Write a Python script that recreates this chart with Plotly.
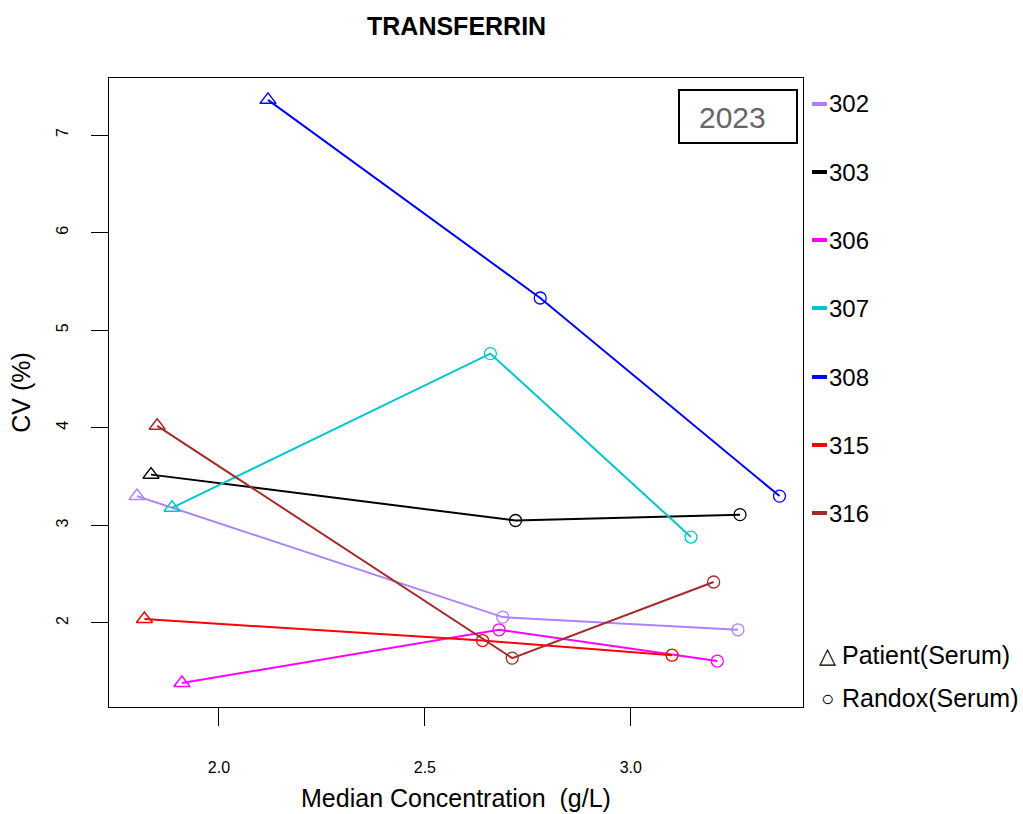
import plotly.graph_objects as go

# ---------------- data ----------------
labs = ["302", "303", "306", "307", "308", "315", "316"]
colors = ["#AB82FF", "#000000", "#FF00FF", "#00C5CD", "#0000FF", "#FF0000", "#A52A2A"]

# Patient(Serum) points (triangles)
pat_x = [1.801, 1.835, 1.910, 1.886, 2.119, 1.819, 1.850]
pat_y = [3.30, 3.52, 1.385, 3.18, 7.36, 2.04, 4.02]

# Randox(Serum) points (circles), two per lab
rdx1_x = [2.689, 2.720, 2.680, 2.659, 2.780, 2.640, 2.712]
rdx1_y = [2.06, 3.05, 1.93, 4.76, 5.33, 1.82, 1.64]
rdx2_x = [3.260, 3.265, 3.210, 3.146, 3.361, 3.100, 3.201]
rdx2_y = [1.93, 3.11, 1.61, 2.88, 3.30, 1.67, 2.42]

x_ticks = [2.0, 2.5, 3.0]
x_tick_text = ["2.0", "2.5", "3.0"]
y_ticks = [2, 3, 4, 5, 6, 7]

title = "TRANSFERRIN"
year = "2023"

# ---------------- layout geometry ----------------
W, H = 1023, 814
L, R, T, B = 109, 803, 78, 707  # page pixels of plot area
pw, ph = R - L, B - T

def px_x(px):
    return (px - L) / pw

def px_y(py):
    return (B - py) / ph

FONT = "Arial, Liberation Sans, sans-serif"

fig = go.Figure()

for i, lab in enumerate(labs):
    pts = sorted([(pat_x[i], pat_y[i]), (rdx1_x[i], rdx1_y[i]), (rdx2_x[i], rdx2_y[i])])
    fig.add_trace(go.Scatter(
        x=[p[0] for p in pts], y=[p[1] for p in pts], mode="lines",
        line=dict(color=colors[i], width=2), showlegend=False, hoverinfo="skip"))
    fig.add_trace(go.Scatter(
        x=[pat_x[i]], y=[pat_y[i]], mode="markers",
        marker=dict(symbol="triangle-up-open", size=14, color=colors[i], line=dict(width=1.5, color=colors[i])),
        showlegend=False, name=lab))
    fig.add_trace(go.Scatter(
        x=[rdx1_x[i], rdx2_x[i]], y=[rdx1_y[i], rdx2_y[i]], mode="markers",
        marker=dict(symbol="circle-open", size=12, color=colors[i], line=dict(width=1.3, color=colors[i])),
        showlegend=False, name=lab))

shapes = []
annotations = []

# legend of labs
leg_y_px = [104, 172, 240, 308, 377, 445, 513]
for i, lab in enumerate(labs):
    yy = px_y(leg_y_px[i])
    shapes.append(dict(type="line", xref="paper", yref="paper",
                       x0=px_x(812), x1=px_x(827), y0=yy, y1=yy,
                       line=dict(color=colors[i], width=4)))
    annotations.append(dict(xref="paper", yref="paper", x=px_x(827), y=yy,
                            text=lab, showarrow=False, xanchor="left", yanchor="middle",
                            font=dict(family=FONT, size=24, color="black")))

# symbol legend
sym_text = ["\u25b3", "\u25cb"]
sym_lab = ["Patient(Serum)", "Randox(Serum)"]
sym_y_px = [655, 698]
for s, t, yp in zip(sym_text, sym_lab, sym_y_px):
    annotations.append(dict(xref="paper", yref="paper", x=px_x(827), y=px_y(yp),
                            text=s, showarrow=False, xanchor="center", yanchor="middle",
                            font=dict(family=FONT, size=22, color="black")))
    annotations.append(dict(xref="paper", yref="paper", x=px_x(840), y=px_y(yp),
                            text=t, showarrow=False, xanchor="left", yanchor="middle",
                            font=dict(family=FONT, size=25, color="black")))

# year box
shapes.append(dict(type="rect", xref="paper", yref="paper",
                   x0=px_x(679), x1=px_x(797), y0=px_y(143), y1=px_y(90),
                   line=dict(color="black", width=2), fillcolor="rgba(0,0,0,0)"))
annotations.append(dict(xref="paper", yref="paper", x=px_x(732), y=px_y(117),
                        text=year, showarrow=False, xanchor="center", yanchor="middle",
                        font=dict(family=FONT, size=30, color="#666666")))

# title
annotations.append(dict(xref="paper", yref="paper", x=0.5, y=px_y(26),
                        text="<b>" + title + "</b>", showarrow=False, xanchor="center", yanchor="middle",
                        font=dict(family=FONT, size=25, color="black")))

fig.update_layout(
    width=W, height=H,
    margin=dict(l=L, r=W - R, t=T, b=H - B, autoexpand=False),
    paper_bgcolor="white", plot_bgcolor="white",
    shapes=shapes, annotations=annotations,
    showlegend=False,
    font=dict(family=FONT, color="black"),
)

fig.update_xaxes(
    range=[1.733, 3.418], tickvals=x_ticks, ticktext=x_tick_text, automargin=False,
    showgrid=False, zeroline=False, showline=True, linecolor="black", linewidth=1.2, mirror=True,
    ticks="outside", ticklen=18, tickcolor="black", tickwidth=1.2,
    tickfont=dict(family=FONT, size=16, color="black"), ticklabelstandoff=28,
    title=dict(text="Median Concentration  (g/L)", font=dict(family=FONT, size=25, color="black"), standoff=14),
)
fig.update_yaxes(
    range=[1.139, 7.584], tickvals=y_ticks, automargin=False,
    showgrid=False, zeroline=False, showline=True, linecolor="black", linewidth=1.2, mirror=True,
    ticks="outside", ticklen=17, tickcolor="black", tickwidth=1.2, tickangle=-90,
    tickfont=dict(family=FONT, size=16, color="black"), ticklabelstandoff=17,
    title=dict(text="CV (%)", font=dict(family=FONT, size=25, color="black"), standoff=15),
)

fig.write_html(
    "out.html",
    config={"displayModeBar": False},
    post_script="document.documentElement.style.overflow='hidden';"
                "document.body.style.margin='0';document.body.style.overflow='hidden';",
)
